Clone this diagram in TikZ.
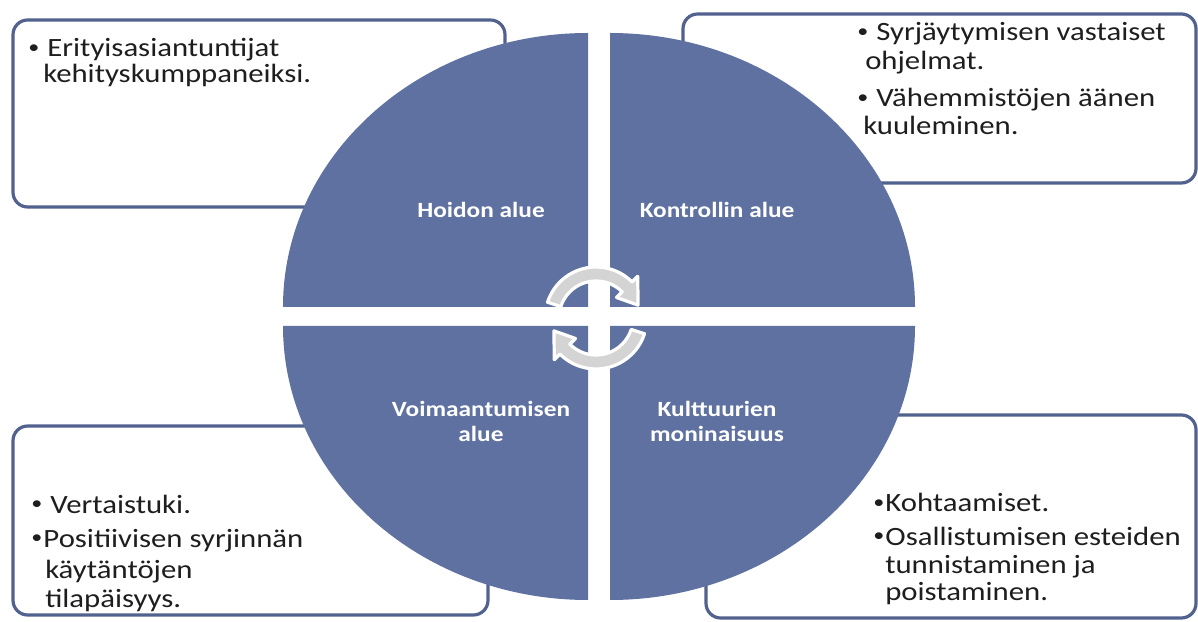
\documentclass[tikz,border=0pt]{standalone}
\usepackage{fontspec}
\setmainfont[FakeStretch=1.165]{Carlito}
\usetikzlibrary{fit}
\definecolor{quad}{RGB}{94,113,160}
\definecolor{boxline}{RGB}{82,98,142}
\definecolor{txt}{RGB}{30,30,30}
\definecolor{arrowfill}{RGB}{212,212,212}
\newcommand{\bul}{\makebox[0.5em][c]{\raisebox{0.12em}{\scalebox{0.72}{•}}}}
\begin{document}
\begin{tikzpicture}[x=0.75pt,y=0.75pt,
  infobox/.style={draw=boxline, line width=2.4pt, rounded corners=11pt, fill=white, inner sep=0pt},
  quadrant/.style={fill=quad},
  boxtext/.style={anchor=base west, inner sep=0pt, text=txt, font=\fontsize{19.8}{24}\selectfont},
  qlabel/.style={align=center, text=white, inner sep=0pt, font=\bfseries\fontsize{16.3}{18.75}\selectfont},
  cyclearrow/.style={fill=arrowfill, draw=white, line width=2.4pt, line join=round}]
\useasboundingbox (0,0) rectangle (1198,621);
\fill[white] (0,0) rectangle (1198,621);

% information boxes
\node[infobox, fit={(13,414) (505,601)}] (tlbox) {};
\node[infobox, fit={(683,438) (1196,607)}] (trbox) {};
\node[infobox, fit={(13,6) (488,195)}] (blbox) {};
\node[infobox, fit={(706,3) (1196,206)}] (brbox) {};

% quadrants
\fill[quadrant] (588,314) -- (283,314) arc[start angle=180, end angle=90, x radius=305, y radius=274] -- cycle;
\fill[quadrant] (610,314) -- (610,588) arc[start angle=90, end angle=0, x radius=305, y radius=274] -- cycle;
\fill[quadrant] (588,295) -- (283,295) arc[start angle=180, end angle=270, x radius=305, y radius=274] -- cycle;
\fill[quadrant] (610,295) -- (915,295) arc[start angle=0, end angle=-90, x radius=305, y radius=274] -- cycle;

% quadrant labels
\node[qlabel] (hoito) at (481,411) {Hoidon alue};
\node[qlabel] (kontrolli) at (717,411) {Kontrollin alue};
\node[qlabel] (voima) at (481,199.5) {Voimaantumisen\\alue};
\node[qlabel] (kulttuuri) at (717,199.5) {Kulttuurien\\moninaisuus};

% cycle arrows
\begin{scope}[shift={(596,303)}]
  \draw[cyclearrow] (162:51) arc[start angle=162, end angle=45, radius=51]
    -- (45:59) -- (17:44) -- (45:29) -- (45:37)
    arc[start angle=45, end angle=162, radius=37] -- cycle;
  \draw[cyclearrow] (-18:51) arc[start angle=-18, end angle=-135, radius=51]
    -- (-135:59) -- (-163:44) -- (-135:29) -- (-135:37)
    arc[start angle=-135, end angle=-18, radius=37] -- cycle;
\end{scope}

% box texts
\node[boxtext] (tl1) at (27,564) {\bul\ Erityisasiantuntijat};
\node[boxtext] (tl2) at (43,538) {kehityskumppaneiksi.};

\node[boxtext] (tr1) at (856,580) {\bul\ Syrjäytymisen vastaiset};
\node[boxtext] (tr2) at (865,551) {ohjelmat.};
\node[boxtext] (tr3) at (856,514) {\bul\ Vähemmistöjen äänen};
\node[boxtext] (tr4) at (863,486) {kuuleminen.};

\node[boxtext] (bl1) at (30,108) {\bul\ Vertaistuki.};
\node[boxtext] (bl2) at (30,74) {\bul Positiivisen syrjinnän};
\node[boxtext] (bl3) at (45,43) {käytäntöjen};
\node[boxtext] (bl4) at (45,14) {tilapäisyys.};

\node[boxtext] (br1) at (872,109) {\bul Kohtaamiset.};
\node[boxtext] (br2) at (872,76) {\bul Osallistumisen esteiden};
\node[boxtext] (br3) at (885,48) {tunnistaminen ja};
\node[boxtext] (br4) at (885,21) {poistaminen.};
\end{tikzpicture}
\end{document}
